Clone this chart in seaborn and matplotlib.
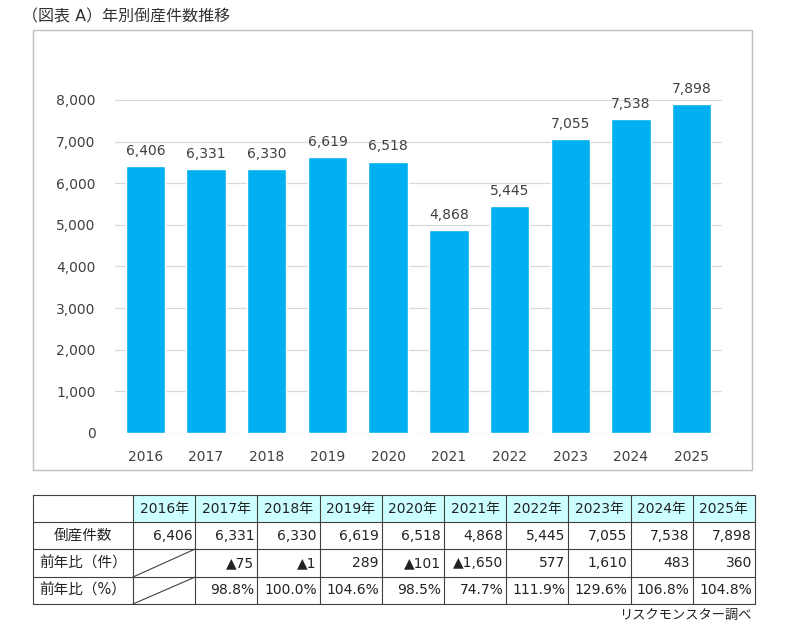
import pandas as pd
import numpy as np
import matplotlib.pyplot as plt
import seaborn as sns
from matplotlib.patches import Rectangle

# データ
years = ['2016', '2017', '2018', '2019', '2020', '2021', '2022', '2023', '2024', '2025']
counts = [6406, 6331, 6330, 6619, 6518, 4868, 5445, 7055, 7538, 7898]
diff_labels = ['', '▲75', '▲1', '289', '▲101', '▲1,650', '577', '1,610', '483', '360']
ratio_labels = ['', '98.8%', '100.0%', '104.6%', '98.5%', '74.7%', '111.9%', '129.6%', '106.8%', '104.8%']
row_names = ['倒産件数', '前年比（件）', '前年比（%）']
title = '（図表 A）年別倒産件数推移'
source = 'リスクモンスター調べ'

sns.set_style('white')
plt.rcParams['font.family'] = ['DejaVu Sans', 'Noto Sans CJK JP']

bar_color = '#00B0F0'
text_color = '#404040'

fig = plt.figure(figsize=(7.88, 6.30), dpi=100)
W, H = 788, 630

# グラフの枠
fig.patches.append(Rectangle((33 / W, 1 - 470 / H), 719 / W, 440 / H,
                             transform=fig.transFigure, fill=False,
                             edgecolor='#bfbfbf', linewidth=1.0))

ax = fig.add_axes([115 / W, 1 - 433 / H, 607 / W, 358 / H])
df = pd.DataFrame({'year': years, 'count': counts})
sns.barplot(data=df, x='year', y='count', color=bar_color, width=0.65,
            saturation=1, ax=ax)
ax.set_ylim(0, 8600)
ax.set_xlim(-0.5, len(years) - 0.5)
ax.set_yticks(range(0, 8001, 1000))
ax.set_yticklabels([f'{v:,}' for v in range(0, 8001, 1000)])
ax.grid(axis='y', color='#d9d9d9', linewidth=0.9)
ax.set_axisbelow(True)
for s in ax.spines.values():
    s.set_visible(False)
ax.tick_params(axis='both', length=0, labelsize=10, colors=text_color)
ax.tick_params(axis='y', pad=14)
ax.tick_params(axis='x', pad=12)
ax.set_xlabel('')
ax.set_ylabel('')
ax.bar_label(ax.containers[0], labels=[f'{v:,}' for v in counts],
             padding=6, fontsize=10, color=text_color)

# タイトル
fig.text(22 / W, 1 - 17 / H, title, fontsize=11.5, color='#333333',
         va='center', ha='left')

# 表
tx = fig.add_axes([0, 0, 1, 1])
tx.set_xlim(0, W)
tx.set_ylim(H, 0)
tx.axis('off')

left, first_w, right = 33, 100, 755
col_w = (right - left - first_w) / len(years)
row_y = [495, 522, 549, 577, 604]
col_x = [left] + [left + first_w + i * col_w for i in range(len(years) + 1)]

# ヘッダーの塗り
for i in range(len(years)):
    tx.add_patch(Rectangle((col_x[i + 1], row_y[0]), col_w, row_y[1] - row_y[0],
                           facecolor='#ccffff', edgecolor='none'))
for y in row_y:
    tx.plot([left, right], [y, y], color='#404040', linewidth=0.8)
for x in col_x:
    tx.plot([x, x], [row_y[0], row_y[-1]], color='#404040', linewidth=0.8)

fs = 10
for i, y in enumerate(years):
    xc = (col_x[i + 1] + col_x[i + 2]) / 2
    tx.text(xc, (row_y[0] + row_y[1]) / 2, f'{y}年', ha='center', va='center',
            fontsize=fs, color='#222222')

rows = [[f'{v:,}' for v in counts], diff_labels, ratio_labels]
for r, (name, vals) in enumerate(zip(row_names, rows)):
    yc = (row_y[r + 1] + row_y[r + 2]) / 2
    tx.text(left + first_w / 2, yc, name, ha='center', va='center',
            fontsize=10.5, color='#222222')
    for i, v in enumerate(vals):
        if v:
            tx.text(col_x[i + 2] - 3, yc, v, ha='right', va='center',
                    fontsize=fs, color='#222222')
    if r > 0:
        # 斜線
        tx.plot([col_x[1], col_x[2]], [row_y[r + 2], row_y[r + 1]],
                color='#404040', linewidth=0.8)

tx.text(right - 3, 615, source, ha='right', va='center', fontsize=9.5,
        color='#222222')

plt.savefig('out.png', dpi=100)
